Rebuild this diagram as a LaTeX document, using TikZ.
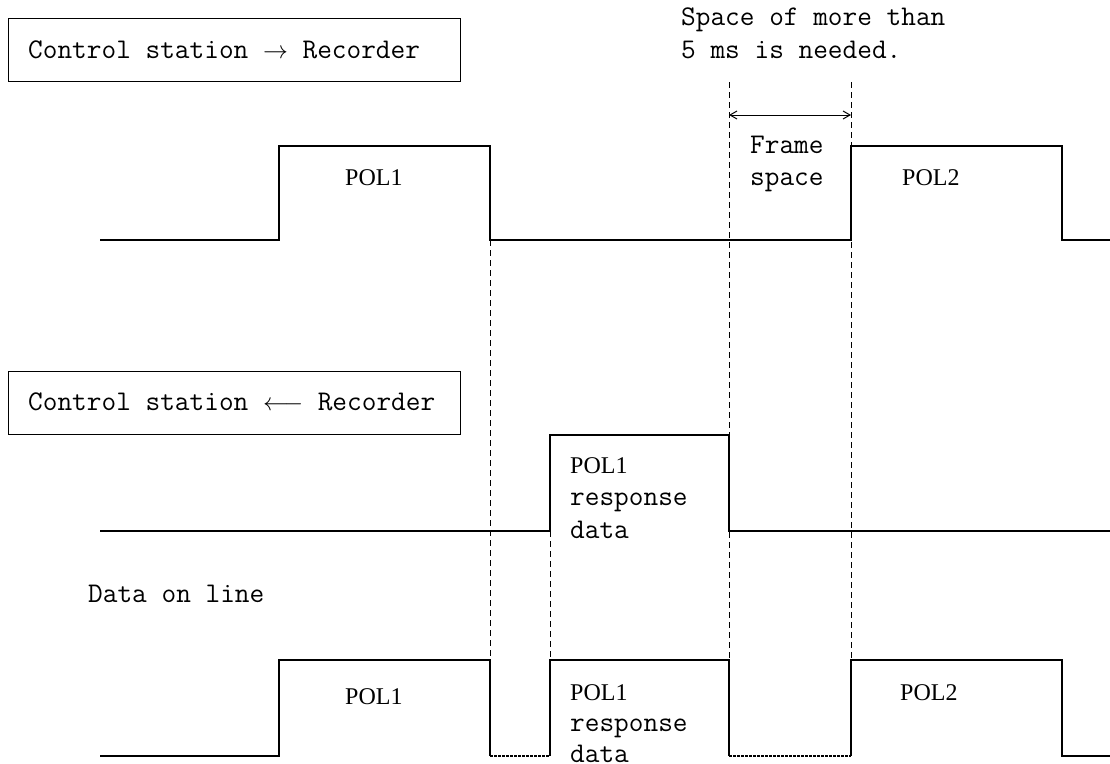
\documentclass[tikz,border=0pt]{standalone}
\usepackage{fontspec}
\newfontfamily\polfont{Liberation Serif}
\usetikzlibrary{arrows.meta}
\begin{document}
\begin{tikzpicture}[x=1pt,y=-1pt,
  wave/.style={line width=1.2pt, line join=miter},
  idle/.style={line width=1.1pt, dash pattern=on 2.5pt off 1.5pt},
  guide/.style={line width=0.9pt, dash pattern=on 6pt off 4pt},
  lbl/.style={anchor=base west, inner sep=0pt, font=\ttfamily\fontsize{28.5}{32}\selectfont},
  pol/.style={anchor=base west, inner sep=0pt, font=\polfont\fontsize{24}{30}\selectfont},
  framebox/.style={draw, line width=1.1pt, anchor=north west, inner sep=0pt, minimum width=452pt, minimum height=63pt}]
\useasboundingbox (0,0) rectangle (1110,763);

% header boxes
\node[framebox] (box1) at (8,18) {};
\node[lbl] (t1) at (28,58) {Control station $\rightarrow$ Recorder};
\node[framebox] (box2) at (8,371) {};
\node[lbl] (t2) at (28,410) {Control station $\longleftarrow$ Recorder};

% notes
\node[lbl] (n1) at (681,25) {Space of more than};
\node[lbl] (n2) at (681,58) {5 ms is needed.};
\node[lbl] (f1) at (750,153) {Frame};
\node[lbl] (f2) at (750,185) {space};
\node[lbl] (dl) at (88,602) {Data on line};

% top waveform
\coordinate (a0) at (100,240); \coordinate (a1) at (279,240); \coordinate (a2) at (279,146);
\coordinate (a3) at (490,146); \coordinate (a4) at (490,240); \coordinate (a5) at (851,240);
\coordinate (a6) at (851,146); \coordinate (a7) at (1062,146); \coordinate (a8) at (1062,240);
\coordinate (a9) at (1110,240);
\draw[wave] (a0) -- (a1) -- (a2) -- (a3) -- (a4) -- (a5) -- (a6) -- (a7) -- (a8) -- (a9);
\node[pol] (p1) at (345,185) {POL1};
\node[pol] (p2) at (902,185) {POL2};

% middle waveform
\coordinate (b0) at (100,531); \coordinate (b1) at (550,531); \coordinate (b2) at (550,435);
\coordinate (b3) at (729,435); \coordinate (b4) at (729,531); \coordinate (b5) at (1110,531);
\draw[wave] (b0) -- (b1) -- (b2) -- (b3) -- (b4) -- (b5);
\node[pol] (r1) at (570,473) {POL1};
\node[lbl] (r2) at (570,505) {response};
\node[lbl] (r3) at (570,538) {data};

% bottom waveform
\coordinate (c0) at (100,756); \coordinate (c1) at (279,756); \coordinate (c2) at (279,660);
\coordinate (c3) at (490,660); \coordinate (c4) at (490,756); \coordinate (c5) at (550,756);
\coordinate (c6) at (550,660); \coordinate (c7) at (729,660); \coordinate (c8) at (729,756);
\coordinate (c9) at (851,756); \coordinate (c10) at (851,660); \coordinate (c11) at (1062,660);
\coordinate (c12) at (1062,756); \coordinate (c13) at (1110,756);
\draw[wave] (c0) -- (c1) -- (c2) -- (c3) -- (c4);
\draw[idle] (c4) -- (c5);
\draw[wave] (c5) -- (c6) -- (c7) -- (c8);
\draw[idle] (c8) -- (c9);
\draw[wave] (c9) -- (c10) -- (c11) -- (c12) -- (c13);
\node[pol] (q1) at (345,704) {POL1};
\node[pol] (q2) at (570,700) {POL1};
\node[lbl] (q3) at (570,731) {response};
\node[lbl] (q4) at (570,762) {data};
\node[pol] (q5) at (900,700) {POL2};

% guide lines
\coordinate (g1) at (729,82); \coordinate (g2) at (851,82);
\draw[guide] (a4) -- (c4);
\draw[guide] (b1) -- (c6);
\draw[guide] (g1) -- (c7);
\draw[guide] (g2) -- (c10);

% frame space arrow
\coordinate (s1) at (729,115); \coordinate (s2) at (851,115);
\draw[line width=1pt, {Straight Barb[length=7pt,width=8pt]}-{Straight Barb[length=7pt,width=8pt]}] (s1) -- (s2);
\end{tikzpicture}
\end{document}
